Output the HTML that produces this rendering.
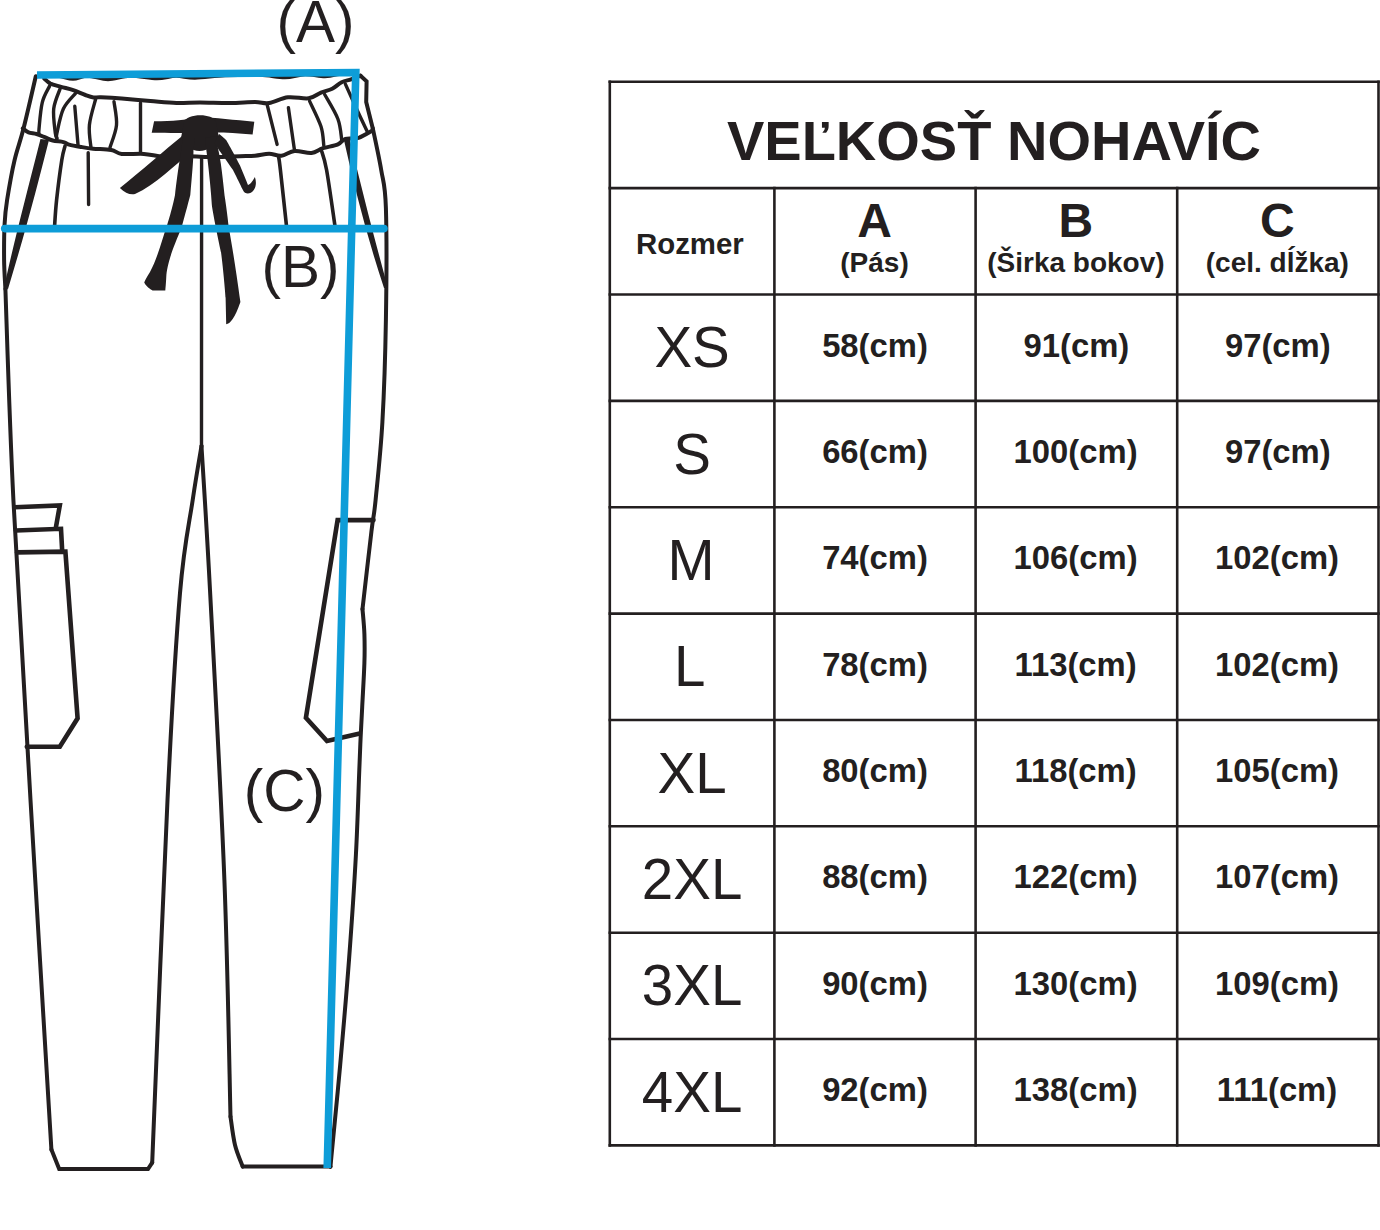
<!DOCTYPE html>
<html><head><meta charset="utf-8"><title>Veľkosť nohavíc</title>
<style>
html,body{margin:0;padding:0;background:#fff;}
body{width:1380px;height:1230px;overflow:hidden;}
svg{display:block;font-family:"Liberation Sans", sans-serif;}
</style></head>
<body>
<svg width="1380" height="1230" viewBox="0 0 1380 1230">
<rect width="1380" height="1230" fill="#fff"/>
<path d="M35.8 76.3 C33.8 85.0 27.1 114.4 23.6 128.3 C20.1 142.2 17.4 148.1 14.6 160.0 C11.8 171.9 8.8 189.3 7.1 200.0 C5.4 210.7 5.1 214.0 4.6 224.0 C4.1 234.0 4.0 249.2 4.1 260.0 C4.2 270.8 5.2 284.2 5.4 289.0" fill="none" stroke="#231f20" stroke-width="4.0" stroke-linecap="round" stroke-linejoin="round" />
<path d="M5.4 289.0 C6.7 324.2 9.2 414.8 13.4 500.0 C17.6 585.2 24.2 691.7 30.5 800.0 C36.8 908.3 47.9 1091.3 51.4 1149.6" fill="none" stroke="#231f20" stroke-width="4.0" stroke-linecap="round" stroke-linejoin="round" />
<path d="M51.4 1149.6 L59.2 1169.0 L148.0 1169.0 L152.2 1162.6" fill="none" stroke="#231f20" stroke-width="4.0" stroke-linecap="round" stroke-linejoin="miter" />
<path d="M152.2 1162.6 C154.8 1102.2 162.9 894.9 167.5 800.0 C172.1 705.1 175.8 643.0 180.0 593.0 C184.2 543.0 189.1 524.5 192.7 500.0 C196.3 475.5 200.0 455.0 201.5 446.0" fill="none" stroke="#231f20" stroke-width="4.0" stroke-linecap="round" stroke-linejoin="round" />
<path d="M201.5 446.0 C202.9 470.0 206.2 517.7 210.0 590.0 C213.8 662.3 221.0 792.2 224.4 880.0 C227.8 967.8 229.5 1077.2 230.5 1116.6" fill="none" stroke="#231f20" stroke-width="4.0" stroke-linecap="round" stroke-linejoin="round" />
<path d="M230.5 1116.6 C231.2 1121.3 233.0 1136.7 235.0 1145.0 C237.0 1153.3 241.4 1163.0 242.7 1166.6" fill="none" stroke="#231f20" stroke-width="4.0" stroke-linecap="round" stroke-linejoin="round" />
<path d="M242.7 1166.6 L330.5 1166.6" fill="none" stroke="#231f20" stroke-width="4.0" stroke-linecap="round" stroke-linejoin="round" />
<path d="M330.5 1166.6 C330.7 1164.8 329.9 1172.6 331.5 1155.6 C333.1 1138.6 337.3 1097.3 340.2 1064.7 C343.1 1032.1 346.4 995.0 349.0 960.0 C351.6 925.0 354.2 886.7 355.9 855.0 C357.6 823.3 358.5 789.8 359.3 770.0 C360.1 750.2 360.2 746.5 360.7 736.0 C361.2 725.5 361.6 719.2 362.2 707.0 C362.8 694.8 364.0 675.2 364.4 663.0 C364.8 650.8 364.7 643.0 364.4 634.0 C364.1 625.0 362.8 613.2 362.5 609.0" fill="none" stroke="#231f20" stroke-width="4.0" stroke-linecap="round" stroke-linejoin="round" />
<path d="M362.5 609.0 C364.0 596.1 369.2 549.9 371.4 531.7 C373.6 513.5 373.8 518.3 375.6 500.0 C377.4 481.7 380.7 452.0 382.4 422.0 C384.1 392.0 385.3 355.7 385.9 320.0 C386.5 284.3 386.7 233.0 385.9 208.0 C385.1 183.0 383.4 183.3 381.2 170.0 C379.0 156.7 374.2 135.3 372.8 128.4" fill="none" stroke="#231f20" stroke-width="4.0" stroke-linecap="round" stroke-linejoin="round" />
<path d="M372.8 128.4 L366.2 102.0 L366.6 81.3 L360.5 75.7" fill="none" stroke="#231f20" stroke-width="4.0" stroke-linecap="round" stroke-linejoin="miter" />
<path d="M201.6 158.0 L201.5 446.0" fill="none" stroke="#231f20" stroke-width="3.4" stroke-linecap="round" stroke-linejoin="round" />
<path d="M42.0 76.0 C44.7 76.0 52.8 75.5 58.0 76.0 C63.2 76.5 68.0 79.0 73.0 79.0 C78.0 79.0 82.2 75.9 88.0 76.0 C93.8 76.1 101.0 79.5 108.0 79.5 C115.0 79.5 121.8 76.2 130.0 76.0 C138.2 75.8 149.3 78.5 157.0 78.5 C164.7 78.5 169.7 76.1 176.0 76.0 C182.3 75.9 186.8 78.1 195.0 78.0 C203.2 77.9 214.2 76.0 225.0 75.5 C235.8 75.0 250.0 74.7 260.0 75.0 C270.0 75.3 277.5 77.6 285.0 77.5 C292.5 77.4 298.3 74.7 305.0 74.5 C311.7 74.3 319.2 76.6 325.0 76.5 C330.8 76.4 337.5 74.4 340.0 74.0" fill="none" stroke="#231f20" stroke-width="3.6" stroke-linecap="round" stroke-linejoin="round" />
<path d="M44.3 78.7 C45.3 79.5 47.6 82.2 50.4 83.6 C53.2 84.9 57.2 85.7 61.0 86.8 C64.8 87.9 69.1 88.7 73.2 90.1 C77.3 91.5 82.0 93.8 85.4 95.0 C88.8 96.2 90.9 97.0 93.5 97.4 C96.1 97.8 96.2 97.0 100.9 97.2 C105.6 97.4 113.5 97.8 121.7 98.5 C129.9 99.2 141.3 100.3 150.4 101.1 C159.5 101.8 168.2 102.8 176.5 103.0 C184.8 103.2 191.1 102.5 200.0 102.5 C208.9 102.5 220.8 103.1 230.0 103.0 C239.2 102.9 248.5 102.0 255.0 102.0 C261.5 102.0 263.6 103.8 269.1 103.0 C274.6 102.2 281.4 98.1 288.0 97.3 C294.6 96.5 303.2 99.1 308.7 98.3 C314.2 97.5 317.1 94.2 321.0 92.6 C324.9 91.0 328.8 90.5 332.2 88.8 C335.6 87.1 338.5 83.8 341.7 82.2 C344.9 80.6 348.0 80.5 351.1 79.4 C354.2 78.3 358.9 76.3 360.5 75.7" fill="none" stroke="#231f20" stroke-width="4.0" stroke-linecap="round" stroke-linejoin="round" />
<path d="M22.8 128.3 C23.8 129.0 26.2 131.5 28.5 132.4 C30.8 133.3 33.9 133.2 36.6 134.0 C39.3 134.8 42.0 136.1 44.7 137.2 C47.4 138.3 49.7 139.7 52.8 140.5 C55.9 141.3 60.7 141.4 63.4 142.1 C66.1 142.8 66.1 143.8 69.1 144.6 C72.1 145.4 77.3 146.3 81.3 147.0 C85.3 147.7 88.0 148.2 93.0 148.7 C98.0 149.2 106.5 149.1 111.3 150.0 C116.1 150.9 116.3 153.2 121.7 153.9 C127.1 154.6 136.9 153.5 143.9 153.9 C150.9 154.3 156.1 156.1 163.5 156.5 C170.9 156.9 179.9 156.2 188.5 156.3 C197.1 156.4 206.4 157.0 215.0 157.0 C223.6 157.0 233.3 156.4 240.0 156.2 C246.7 156.0 250.2 156.1 255.0 155.7 C259.9 155.3 264.7 153.8 269.1 153.8 C273.5 153.8 277.1 156.2 281.4 155.7 C285.6 155.2 289.6 151.5 294.6 151.0 C299.6 150.5 306.8 153.4 311.5 152.9 C316.2 152.4 318.4 149.6 322.8 148.2 C327.2 146.8 334.1 146.0 337.9 144.4 C341.7 142.8 341.9 139.9 345.4 138.8 C348.8 137.7 354.0 139.2 358.6 137.8 C363.2 136.4 370.4 131.6 372.8 130.3" fill="none" stroke="#231f20" stroke-width="4.0" stroke-linecap="round" stroke-linejoin="round" />
<path d="M49.6 86.0 C48.4 88.7 44.1 95.1 42.3 102.3 C40.5 109.5 39.5 123.9 39.0 129.1 C38.5 134.2 39.0 132.5 39.0 133.2" fill="none" stroke="#231f20" stroke-width="3.4" stroke-linecap="round" stroke-linejoin="round" />
<path d="M60.2 88.5 C59.1 91.9 54.5 101.3 53.7 108.8 C52.9 116.2 54.8 128.3 55.3 133.2 C55.8 138.1 56.6 137.2 56.9 138.0" fill="none" stroke="#231f20" stroke-width="3.4" stroke-linecap="round" stroke-linejoin="round" />
<path d="M75.6 93.3 C73.6 95.9 66.5 102.2 63.4 108.8 C60.3 115.4 58.0 128.2 56.9 133.2 C55.8 138.2 56.9 137.9 56.9 138.9" fill="none" stroke="#231f20" stroke-width="3.4" stroke-linecap="round" stroke-linejoin="round" />
<path d="M74.8 106.3 L78.0 144.6" fill="none" stroke="#231f20" stroke-width="3.4" stroke-linecap="round" stroke-linejoin="round" />
<path d="M95.9 98.2 C94.8 102.7 90.2 116.7 89.4 125.0 C88.6 133.3 90.7 144.0 91.0 147.8" fill="none" stroke="#231f20" stroke-width="3.4" stroke-linecap="round" stroke-linejoin="round" />
<path d="M114.0 101.7 C114.4 105.6 117.2 117.6 116.5 125.2 C115.8 132.8 111.1 143.7 110.0 147.4" fill="none" stroke="#231f20" stroke-width="3.4" stroke-linecap="round" stroke-linejoin="round" />
<path d="M140.5 103.0 L140.5 152.6" fill="none" stroke="#231f20" stroke-width="3.4" stroke-linecap="round" stroke-linejoin="round" />
<path d="M267.2 104.9 L277.1 144.4" fill="none" stroke="#231f20" stroke-width="3.4" stroke-linecap="round" stroke-linejoin="round" />
<path d="M288.4 107.7 L294.6 151.0" fill="none" stroke="#231f20" stroke-width="3.4" stroke-linecap="round" stroke-linejoin="round" />
<path d="M309.6 101.1 C311.5 105.3 318.6 119.1 321.0 126.5 C323.4 133.9 323.3 142.2 323.8 145.4" fill="none" stroke="#231f20" stroke-width="3.4" stroke-linecap="round" stroke-linejoin="round" />
<path d="M324.7 94.5 C326.9 98.6 335.1 111.5 337.9 119.0 C340.7 126.5 341.1 136.2 341.7 139.7" fill="none" stroke="#231f20" stroke-width="3.4" stroke-linecap="round" stroke-linejoin="round" />
<path d="M345.4 84.1 C347.6 89.0 355.0 105.5 358.6 113.3 C362.2 121.1 365.7 128.2 367.1 131.2" fill="none" stroke="#231f20" stroke-width="3.4" stroke-linecap="round" stroke-linejoin="round" />
<path d="M65.0 146.2 C64.5 148.5 63.2 151.0 61.8 160.0 C60.4 169.0 57.8 189.0 56.6 200.0 C55.4 211.0 54.9 221.7 54.6 226.0" fill="none" stroke="#231f20" stroke-width="3.6" stroke-linecap="round" stroke-linejoin="round" />
<path d="M88.2 152.7 L88.6 204.5" fill="none" stroke="#231f20" stroke-width="3.4" stroke-linecap="round" stroke-linejoin="round" />
<path d="M278.6 156.7 C278.9 158.9 279.1 158.4 280.4 170.0 C281.7 181.6 285.5 216.7 286.5 226.0" fill="none" stroke="#231f20" stroke-width="3.6" stroke-linecap="round" stroke-linejoin="round" />
<path d="M321.0 149.1 C321.9 152.6 324.3 157.2 326.6 170.0 C328.9 182.8 333.6 216.7 335.0 226.0" fill="none" stroke="#231f20" stroke-width="3.6" stroke-linecap="round" stroke-linejoin="round" />
<path d="M40.5 139 L49 140 C40 175 30 215 16 262 L8 289 L4 288 C12 250 25 200 40.5 139Z" fill="#231f20"/>
<path d="M343.6 138.5 L349.5 138.5 C362 190 376 245 388 288 L384 288 C368 240 355 190 343.6 138.5Z" fill="#231f20"/>
<path d="M14.6 507.3 L59.8 505.4 L56.0 526.8" fill="none" stroke="#231f20" stroke-width="4.6" stroke-linecap="round" stroke-linejoin="miter" />
<path d="M15.9 530.5 L61.0 528.8 L62.2 551.2" fill="none" stroke="#231f20" stroke-width="4.6" stroke-linecap="round" stroke-linejoin="miter" />
<path d="M17.0 552.4 L65.4 551.7 L77.6 718.3 L59.8 746.8 L26.8 746.8" fill="none" stroke="#231f20" stroke-width="4.6" stroke-linecap="round" stroke-linejoin="miter" />
<path d="M373.5 520.1 L337.6 520.1 L305.9 717.8 L327.0 741.0 L359.8 733.6" fill="none" stroke="#231f20" stroke-width="4.6" stroke-linecap="round" stroke-linejoin="miter" />
<path d="M154.1 121.2 C175 122 190 119 199 116.6 C215 118 235 120 254.3 121.8 L252.6 134.6 C230 132 210 132 199 133 C185 133 170 133 151.7 132.8Z" fill="#231f20"/>
<path d="M184 122 C186 114 212 112 216 122 L219 138 C214 146 208 150.5 199.5 151 C191 150.5 185 146 181 138Z" fill="#231f20"/>
<path d="M181.9 136.3 C165 150 140 172 119.9 187.9 C125 193 130 195 135 194 C155 185 175 165 191.2 151.4Z" fill="#231f20"/>
<path d="M183 138 L180.7 153.7 C178 170 176 185 175 195 C172 210 167.6 223.5 167.6 223.5 C162 240 157.3 258.7 150 272 C146 278 144.2 282.6 144.2 282.6 C147 288 152.8 290.6 152.8 290.6 L165.3 290.6 C166 284 166.4 274.7 166.4 274.7 C167 268 169.8 258.7 169.8 258.7 C174 245 181.2 229.1 181.2 229.1 C186 212 190.3 195 190.3 195 C192 175 193.5 160 193.5 149 L195 138Z" fill="#231f20"/>
<path d="M205 138 L206.2 149 C209 170 211.4 195 212 206.4 C216 230 221 251.9 221 251.9 C224 275 225.6 297.4 225.6 297.4 L226.2 324.2 C230 324 235 318 240.4 302 C236 270 232 245 229 229.1 C227 210 224.5 195 224.5 195 C222 170 220 155 216.7 143.3 L216 136Z" fill="#231f20"/>
<path d="M219 134 C222 136 226 139.8 226 139.8 C232 150 239.9 165.3 239.9 165.3 C244 175 248 185 248 185 C251 184 253 180 254.9 176.9 C257 183 256 190 250.3 193.1 C247 194 244 193 243.3 190.8 C239 182 233 170 233 170 C226 160 214.3 143.3 214.3 143.3Z" fill="#231f20"/>
<path d="M37 75 L355.8 72.5 L327.2 1168" fill="none" stroke="#0e9dd8" stroke-width="7.6" stroke-linejoin="miter" stroke-linecap="butt"/>
<path d="M4.7 228.6 L384 228.6" fill="none" stroke="#0e9dd8" stroke-width="7.6" stroke-linecap="round"/>
<text x="315.4" y="41.9" font-size="58.5" font-weight="400" text-anchor="middle" fill="#231f20" >(A)</text>
<text x="300.6" y="286.6" font-size="58.5" font-weight="400" text-anchor="middle" fill="#231f20" >(B)</text>
<text x="284.4" y="810.5" font-size="58.5" font-weight="400" text-anchor="middle" fill="#231f20" >(C)</text>
<line x1="608.5" y1="81.80" x2="1379.8" y2="81.80" stroke="#231f20" stroke-width="2.6"/>
<line x1="608.5" y1="188.16" x2="1379.8" y2="188.16" stroke="#231f20" stroke-width="2.6"/>
<line x1="608.5" y1="294.52" x2="1379.8" y2="294.52" stroke="#231f20" stroke-width="2.6"/>
<line x1="608.5" y1="400.88" x2="1379.8" y2="400.88" stroke="#231f20" stroke-width="2.6"/>
<line x1="608.5" y1="507.24" x2="1379.8" y2="507.24" stroke="#231f20" stroke-width="2.6"/>
<line x1="608.5" y1="613.60" x2="1379.8" y2="613.60" stroke="#231f20" stroke-width="2.6"/>
<line x1="608.5" y1="719.96" x2="1379.8" y2="719.96" stroke="#231f20" stroke-width="2.6"/>
<line x1="608.5" y1="826.32" x2="1379.8" y2="826.32" stroke="#231f20" stroke-width="2.6"/>
<line x1="608.5" y1="932.68" x2="1379.8" y2="932.68" stroke="#231f20" stroke-width="2.6"/>
<line x1="608.5" y1="1039.04" x2="1379.8" y2="1039.04" stroke="#231f20" stroke-width="2.6"/>
<line x1="608.5" y1="1145.40" x2="1379.8" y2="1145.40" stroke="#231f20" stroke-width="2.6"/>
<line x1="609.8" y1="80.50" x2="609.8" y2="1146.70" stroke="#231f20" stroke-width="2.6"/>
<line x1="774.4" y1="186.86" x2="774.4" y2="1146.70" stroke="#231f20" stroke-width="2.6"/>
<line x1="975.6" y1="186.86" x2="975.6" y2="1146.70" stroke="#231f20" stroke-width="2.6"/>
<line x1="1177.2" y1="186.86" x2="1177.2" y2="1146.70" stroke="#231f20" stroke-width="2.6"/>
<line x1="1378.5" y1="80.50" x2="1378.5" y2="1146.70" stroke="#231f20" stroke-width="2.6"/>
<text x="994.0" y="160.0" font-size="56" font-weight="700" text-anchor="middle" fill="#231f20" >VEĽKOSŤ NOHAVÍC</text>
<text x="689.8999999999999" y="254.0" font-size="29.4" font-weight="700" text-anchor="middle" fill="#231f20" >Rozmer</text>
<text x="874.5" y="237.3" font-size="48" font-weight="700" text-anchor="middle" fill="#231f20" >A</text>
<text x="874.5" y="271.5" font-size="28" font-weight="700" text-anchor="middle" fill="#231f20" >(Pás)</text>
<text x="1075.9" y="237.3" font-size="48" font-weight="700" text-anchor="middle" fill="#231f20" >B</text>
<text x="1075.9" y="271.5" font-size="28" font-weight="700" text-anchor="middle" fill="#231f20" >(Širka bokov)</text>
<text x="1277.35" y="237.3" font-size="48" font-weight="700" text-anchor="middle" fill="#231f20" >C</text>
<text x="1277.35" y="271.5" font-size="28" font-weight="700" text-anchor="middle" fill="#231f20" >(cel. dĺžka)</text>
<text x="692.1" y="367.3" font-size="56.5" font-weight="400" text-anchor="middle" fill="#231f20" >XS</text>
<text x="875.0" y="356.5" font-size="32.8" font-weight="700" text-anchor="middle" fill="#231f20" >58(cm)</text>
<text x="1076.4" y="356.5" font-size="32.8" font-weight="700" text-anchor="middle" fill="#231f20" >91(cm)</text>
<text x="1277.85" y="356.5" font-size="32.8" font-weight="700" text-anchor="middle" fill="#231f20" >97(cm)</text>
<text x="692.1" y="473.66" font-size="56.5" font-weight="400" text-anchor="middle" fill="#231f20" >S</text>
<text x="875.0" y="462.86" font-size="32.8" font-weight="700" text-anchor="middle" fill="#231f20" >66(cm)</text>
<text x="1075.6" y="462.86" font-size="32.8" font-weight="700" text-anchor="middle" fill="#231f20" >100(cm)</text>
<text x="1277.85" y="462.86" font-size="32.8" font-weight="700" text-anchor="middle" fill="#231f20" >97(cm)</text>
<text x="691.0" y="580.02" font-size="56.5" font-weight="400" text-anchor="middle" fill="#231f20" >M</text>
<text x="875.0" y="569.22" font-size="32.8" font-weight="700" text-anchor="middle" fill="#231f20" >74(cm)</text>
<text x="1075.6" y="569.22" font-size="32.8" font-weight="700" text-anchor="middle" fill="#231f20" >106(cm)</text>
<text x="1277.05" y="569.22" font-size="32.8" font-weight="700" text-anchor="middle" fill="#231f20" >102(cm)</text>
<text x="689.8" y="686.38" font-size="56.5" font-weight="400" text-anchor="middle" fill="#231f20" >L</text>
<text x="875.0" y="675.58" font-size="32.8" font-weight="700" text-anchor="middle" fill="#231f20" >78(cm)</text>
<text x="1075.6" y="675.58" font-size="32.8" font-weight="700" text-anchor="middle" fill="#231f20" >113(cm)</text>
<text x="1277.05" y="675.58" font-size="32.8" font-weight="700" text-anchor="middle" fill="#231f20" >102(cm)</text>
<text x="692.1" y="792.74" font-size="56.5" font-weight="400" text-anchor="middle" fill="#231f20" >XL</text>
<text x="875.0" y="781.94" font-size="32.8" font-weight="700" text-anchor="middle" fill="#231f20" >80(cm)</text>
<text x="1075.6" y="781.94" font-size="32.8" font-weight="700" text-anchor="middle" fill="#231f20" >118(cm)</text>
<text x="1277.05" y="781.94" font-size="32.8" font-weight="700" text-anchor="middle" fill="#231f20" >105(cm)</text>
<text x="692.1" y="899.1" font-size="56.5" font-weight="400" text-anchor="middle" fill="#231f20" >2XL</text>
<text x="875.0" y="888.3" font-size="32.8" font-weight="700" text-anchor="middle" fill="#231f20" >88(cm)</text>
<text x="1075.6" y="888.3" font-size="32.8" font-weight="700" text-anchor="middle" fill="#231f20" >122(cm)</text>
<text x="1277.05" y="888.3" font-size="32.8" font-weight="700" text-anchor="middle" fill="#231f20" >107(cm)</text>
<text x="692.1" y="1005.46" font-size="56.5" font-weight="400" text-anchor="middle" fill="#231f20" >3XL</text>
<text x="875.0" y="994.66" font-size="32.8" font-weight="700" text-anchor="middle" fill="#231f20" >90(cm)</text>
<text x="1075.6" y="994.66" font-size="32.8" font-weight="700" text-anchor="middle" fill="#231f20" >130(cm)</text>
<text x="1277.05" y="994.66" font-size="32.8" font-weight="700" text-anchor="middle" fill="#231f20" >109(cm)</text>
<text x="692.1" y="1111.82" font-size="56.5" font-weight="400" text-anchor="middle" fill="#231f20" >4XL</text>
<text x="875.0" y="1101.02" font-size="32.8" font-weight="700" text-anchor="middle" fill="#231f20" >92(cm)</text>
<text x="1075.6" y="1101.02" font-size="32.8" font-weight="700" text-anchor="middle" fill="#231f20" >138(cm)</text>
<text x="1277.05" y="1101.02" font-size="32.8" font-weight="700" text-anchor="middle" fill="#231f20" >111(cm)</text>
</svg>
</body></html>
